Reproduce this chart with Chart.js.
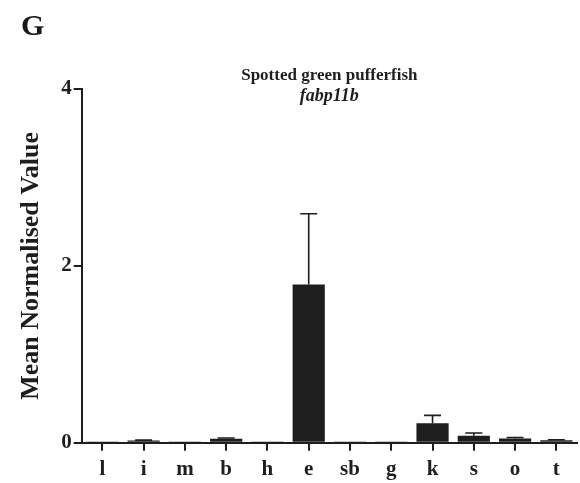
<!DOCTYPE html>
<html>
<head>
<meta charset="utf-8">
<script src="https://cdn.jsdelivr.net/npm/chart.js@4.4.1/dist/chart.umd.min.js"></script>
<style>
  html, body { margin: 0; padding: 0; background: #fff; }
  #wrap { position: relative; width: 580px; height: 483px; }
  #panel { position: absolute; left: 21px; top: 8px; font: bold 30px "Liberation Serif", serif; color: #1a1a1a; }
</style>
</head>
<body>
<div id="wrap">
  <div id="panel">G</div>
  <canvas id="myChart" width="580" height="483"></canvas>
</div>
<script>
// tissues
const tissues = ["l", "i", "m", "b", "h", "e", "sb", "g", "k", "s", "o", "t"];
// mean normalised value and upper error (SEM)
const means = [0.005, 0.025, 0.005, 0.045, 0.005, 1.79, 0.01, 0.01, 0.22, 0.08, 0.05, 0.03];
const errs  = [0, 0.005, 0, 0.01, 0, 0.80, 0, 0, 0.09, 0.03, 0.01, 0.005];
const yTicks = [0, 2, 4];

const ink = "#1e1e1e";

// error bars drawn on top of each bar, upward only
const errorBars = {
  id: "errorBars",
  afterDatasetsDraw(chart) {
    const ctx = chart.ctx;
    const meta = chart.getDatasetMeta(0);
    const y = chart.scales.y;
    ctx.save();
    ctx.strokeStyle = ink;
    ctx.lineWidth = 1.6;
    meta.data.forEach((bar, i) => {
      if (!errs[i]) return;
      const top = y.getPixelForValue(means[i] + errs[i]);
      const base = y.getPixelForValue(means[i]);
      ctx.beginPath();
      ctx.moveTo(bar.x, base);
      ctx.lineTo(bar.x, top);
      ctx.moveTo(bar.x - 8.5, top);
      ctx.lineTo(bar.x + 8.5, top);
      ctx.stroke();
    });
    ctx.restore();
  }
};

// two-line title, second line italic
const titles = {
  id: "titles",
  afterDraw(chart) {
    const ctx = chart.ctx;
    const a = chart.chartArea;
    const cx = (a.left + a.right) / 2;
    ctx.save();
    ctx.fillStyle = ink;
    ctx.textAlign = "center";
    ctx.textBaseline = "middle";
    ctx.font = "bold 17px 'Liberation Serif'";
    ctx.fillText("Spotted green pufferfish", cx, a.top - 13);
    ctx.font = "italic bold 18px 'Liberation Serif'";
    ctx.fillText("fabp11b", cx, a.top + 7);
    ctx.restore();
  }
};

new Chart("myChart", {
  type: "bar",
  data: {
    labels: tissues,
    datasets: [{
      data: means,
      backgroundColor: ink,
      borderWidth: 0,
      barPercentage: 0.78,
      categoryPercentage: 1.0
    }]
  },
  plugins: [errorBars, titles],
  options: {
    responsive: false,
    animation: false,
    layout: { padding: { top: 89, right: 3, left: 16, bottom: -5 } },
    plugins: {
      legend: { display: false },
      tooltip: { enabled: false }
    },
    scales: {
      x: {
        grid: { display: true, offset: false, drawOnChartArea: false, drawTicks: true, tickLength: 8, color: ink, lineWidth: 2 },
        border: { display: true, color: ink, width: 2 },
        ticks: { color: ink, font: { family: "Liberation Serif", size: 21, weight: "bold" }, padding: 6, maxRotation: 0 }
      },
      y: {
        min: 0,
        max: 4,
        afterBuildTicks(scale) { scale.ticks = yTicks.map(v => ({ value: v })); },
        grid: { display: true, drawOnChartArea: false, drawTicks: true, tickLength: 8, color: ink, lineWidth: 2 },
        border: { display: true, color: ink, width: 2 },
        ticks: { color: ink, font: { family: "Liberation Serif", size: 21, weight: "bold" }, padding: 2 },
        title: {
          display: true,
          text: "Mean Normalised Value",
          color: ink,
          font: { family: "Liberation Serif", size: 26, weight: "bold" },
          padding: { top: 0, bottom: 12 }
        }
      }
    }
  }
});
</script>
</body>
</html>
